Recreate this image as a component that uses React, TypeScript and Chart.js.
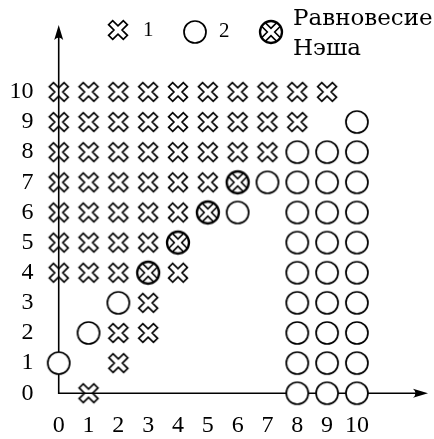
import React, { useEffect, useRef } from "react";
import { Chart, registerables } from "chart.js";

Chart.register(...registerables);

// Data: [x, y] pairs per marker type
const crossPoints: [number, number][] = [
  [0, 10], [1, 10], [2, 10], [3, 10], [4, 10], [5, 10], [6, 10], [7, 10], [8, 10], [9, 10],
  [0, 9], [1, 9], [2, 9], [3, 9], [4, 9], [5, 9], [6, 9], [7, 9], [8, 9],
  [0, 8], [1, 8], [2, 8], [3, 8], [4, 8], [5, 8], [6, 8], [7, 8],
  [0, 7], [1, 7], [2, 7], [3, 7], [4, 7], [5, 7],
  [0, 6], [1, 6], [2, 6], [3, 6], [4, 6],
  [0, 5], [1, 5], [2, 5], [3, 5],
  [0, 4], [1, 4], [2, 4], [4, 4],
  [3, 3],
  [2, 2], [3, 2],
  [2, 1],
  [1, 0],
];
const circlePoints: [number, number][] = [
  [10, 9],
  [8, 8], [9, 8], [10, 8],
  [7, 7], [8, 7], [9, 7], [10, 7],
  [6, 6], [8, 6], [9, 6], [10, 6],
  [8, 5], [9, 5], [10, 5],
  [8, 4], [9, 4], [10, 4],
  [2, 3], [8, 3], [9, 3], [10, 3],
  [1, 2], [8, 2], [9, 2], [10, 2],
  [0, 1], [8, 1], [9, 1], [10, 1],
  [8, 0], [9, 0], [10, 0],
];
const nashPoints: [number, number][] = [
  [6, 7], [5, 6], [4, 5], [3, 4],
];
const xTickValues = [0, 1, 2, 3, 4, 5, 6, 7, 8, 9, 10];
const yTickValues = [0, 1, 2, 3, 4, 5, 6, 7, 8, 9, 10];
const legendLabels = ["1", "2", "Равновесие", "Нэша"];

function xPath(ctx: CanvasRenderingContext2D, cx: number, cy: number, L: number, t: number) {
  const pts = [
    [t, L], [t, t], [L, t], [L, -t], [t, -t], [t, -L],
    [-t, -L], [-t, -t], [-L, -t], [-L, t], [-t, t], [-t, L],
  ];
  const c = Math.SQRT1_2;
  ctx.beginPath();
  pts.forEach(([px, py], i) => {
    const rx = cx + (px - py) * c;
    const ry = cy + (px + py) * c;
    if (i === 0) ctx.moveTo(rx, ry);
    else ctx.lineTo(rx, ry);
  });
  ctx.closePath();
}

function makeCross(): HTMLCanvasElement {
  const c = document.createElement("canvas");
  c.width = 26; c.height = 26;
  const ctx = c.getContext("2d")!;
  ctx.lineWidth = 1.7;
  ctx.lineJoin = "miter";
  ctx.strokeStyle = "#000";
  xPath(ctx, 13, 13, 10.4, 2.9);
  ctx.stroke();
  return c;
}

function makeCircle(): HTMLCanvasElement {
  const c = document.createElement("canvas");
  c.width = 28; c.height = 28;
  const ctx = c.getContext("2d")!;
  ctx.beginPath();
  ctx.arc(14, 14, 11, 0, Math.PI * 2);
  ctx.fillStyle = "#fff";
  ctx.fill();
  ctx.lineWidth = 1.7;
  ctx.strokeStyle = "#000";
  ctx.stroke();
  return c;
}

function makeNash(): HTMLCanvasElement {
  const c = document.createElement("canvas");
  c.width = 28; c.height = 28;
  const ctx = c.getContext("2d")!;
  ctx.beginPath();
  ctx.arc(14, 14, 11, 0, Math.PI * 2);
  ctx.fillStyle = "#fff";
  ctx.fill();
  ctx.save();
  ctx.clip();
  ctx.lineWidth = 1.6;
  ctx.strokeStyle = "#000";
  xPath(ctx, 14, 14, 11, 2.6);
  ctx.stroke();
  ctx.restore();
  ctx.beginPath();
  ctx.arc(14, 14, 11, 0, Math.PI * 2);
  ctx.lineWidth = 2.3;
  ctx.stroke();
  return c;
}

function arrowHead(ctx: CanvasRenderingContext2D, tx: number, ty: number, dir: "up" | "right") {
  ctx.save();
  ctx.translate(tx, ty);
  if (dir === "right") ctx.rotate(Math.PI / 2);
  ctx.beginPath();
  ctx.moveTo(0, 0);
  ctx.lineTo(4.5, 15);
  ctx.quadraticCurveTo(0, 10, -4.5, 15);
  ctx.closePath();
  ctx.fillStyle = "#000";
  ctx.fill();
  ctx.restore();
}

export default function App() {
  const ref = useRef<HTMLCanvasElement>(null);
  useEffect(() => {
    if (!ref.current) return;
    const crossImg = makeCross();
    const circleImg = makeCircle();
    const nashImg = makeNash();

    const axesPlugin = {
      id: "axesArrows",
      beforeDatasetsDraw(chart: any) {
        const { ctx, scales, chartArea } = chart;
        const x0 = scales.x.getPixelForValue(0);
        const y0 = scales.y.getPixelForValue(0);
        const topTip = chartArea.top + 20;
        const rightTip = chartArea.right - 1;
        ctx.save();
        ctx.strokeStyle = "#000";
        ctx.lineWidth = 1.6;
        ctx.beginPath();
        ctx.moveTo(x0, topTip + 8);
        ctx.lineTo(x0, y0);
        ctx.lineTo(rightTip - 8, y0);
        ctx.stroke();
        arrowHead(ctx, x0, topTip, "up");
        arrowHead(ctx, rightTip, y0, "right");
        ctx.restore();
      },
      afterDraw(chart: any) {
        const ctx = chart.ctx;
        ctx.save();
        ctx.drawImage(crossImg, 118 - 13, 30 - 13);
        ctx.drawImage(circleImg, 195 - 14, 32 - 14);
        ctx.drawImage(nashImg, 271 - 14, 32 - 14);
        ctx.fillStyle = "#000";
        ctx.textBaseline = "alphabetic";
        ctx.font = "21px 'Liberation Serif'";
        ctx.fillText(legendLabels[0], 143, 36);
        ctx.fillText(legendLabels[1], 219, 37);
        ctx.font = "23px 'DejaVu Serif'";
        ctx.fillText(legendLabels[2], 293, 25);
        ctx.fillText(legendLabels[3], 293, 55);
        ctx.restore();
      },
    };

    const mk = (pts: [number, number][]) => pts.map(([x, y]) => ({ x, y }));

    const chart = new Chart(ref.current, {
      type: "scatter",
      data: {
        datasets: [
          { label: "1", data: mk(crossPoints), pointStyle: crossImg as any, clip: false as any },
          { label: "2", data: mk(circlePoints), pointStyle: circleImg as any, clip: false as any },
          { label: "Равновесие Нэша", data: mk(nashPoints), pointStyle: nashImg as any, clip: false as any },
        ],
      },
      options: {
        animation: false,
        responsive: false,
        devicePixelRatio: 1,
        layout: { padding: 0 },
        plugins: { legend: { display: false }, tooltip: { enabled: false } },
        scales: {
          x: {
            type: "linear",
            min: -0.795,
            max: 12.417,
            grid: { display: false, drawTicks: false },
            border: { display: false },
            afterBuildTicks: (s: any) => { s.ticks = xTickValues.map((v) => ({ value: v })); },
            afterFit: (s: any) => { s.height = 28; s.paddingLeft = 0; s.paddingRight = 0; },
            ticks: {
              color: "#000",
              padding: 0,
              maxRotation: 0,
              autoSkip: false,
              font: { family: "'Liberation Serif'", size: 24 },
            },
          },
          y: {
            type: "linear",
            min: -0.59,
            max: 12.885,
            grid: { display: false, drawTicks: false },
            border: { display: false },
            afterBuildTicks: (s: any) => { s.ticks = yTickValues.map((v) => ({ value: v })); },
            afterFit: (s: any) => { s.width = 35; s.paddingTop = 0; s.paddingBottom = 0; },
            ticks: {
              color: "#000",
              padding: 1.5,
              autoSkip: false,
              font: { family: "'Liberation Serif'", size: 24 },
            },
          },
        },
      },
      plugins: [axesPlugin],
    });
    return () => chart.destroy();
  }, []);

  return (
    <div style={{ position: "absolute", left: 0, top: 0, width: 434, height: 439, background: "#fff" }}>
      <canvas ref={ref} width={434} height={439} />
    </div>
  );
}
